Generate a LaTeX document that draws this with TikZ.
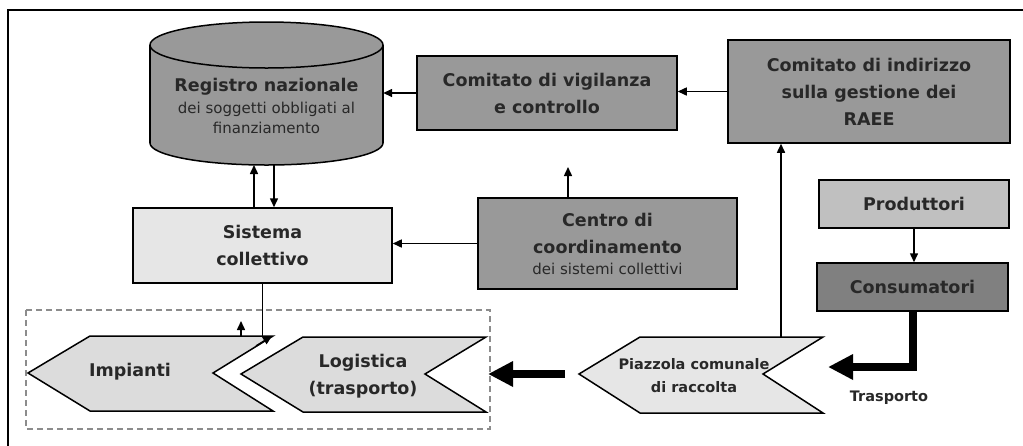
\documentclass[tikz,border=0pt]{standalone}
\usepackage{fontspec}
\setmainfont{DejaVu Sans}
\usepackage{tikz}
\usetikzlibrary{positioning, arrows.meta}
\definecolor{darkbg}{RGB}{153,153,153}
\definecolor{lightbg}{RGB}{230,230,230}
\definecolor{prodbg}{RGB}{192,192,192}
\definecolor{consbg}{RGB}{128,128,128}
\definecolor{chevbg}{RGB}{220,220,220}
\definecolor{txt}{RGB}{40,40,40}

\newcommand{\tit}{\bfseries\fontsize{17.5}{27}\selectfont}
\newcommand{\sub}{\normalfont\fontsize{15}{20}\selectfont}

\begin{document}
\begin{tikzpicture}[x=1pt, y=-1pt,
          box/.style={draw, line width=1.5pt, align=center, inner sep=0pt,
            text=txt, font=\tit},
          dbox/.style={box, fill=darkbg},
          lbox/.style={box, fill=lightbg},
          chev/.style={draw, line width=1.5pt, line join=miter},
          lbl/.style={align=center, text=txt, font=\tit},
          arr/.style={-{Triangle[length=9pt,width=8pt]}, line width=1.5pt},
          bigarr/.style={-{Triangle[length=25pt,width=24pt]}, line width=8pt},
          dashbox/.style={draw=black!45, line width=1.2pt, dash pattern=on 6pt off 4pt}]
        \useasboundingbox (0,0) rectangle (1023,445);
        \draw[line width=1.5pt] (8,10) rectangle (1040,470);

        % database
        \fill[darkbg] (266.5,143) ellipse [x radius=116.5, y radius=22];
        \fill[darkbg] (150,45) rectangle (383,143);
        \begin{scope}
          \clip (140,143) rectangle (395,180);
          \draw[line width=1.5pt] (266.5,143) ellipse [x radius=116.5, y radius=22];
        \end{scope}
        \draw[line width=1.5pt] (150,45) -- (150,143) (383,45) -- (383,143);
        \filldraw[fill=darkbg, line width=1.5pt] (266.5,45) ellipse [x radius=116.5, y radius=23];
        \node[lbl, minimum width=233pt] (reg) at (266.5,106)
          {Registro nazionale\\[-5pt]{\sub dei soggetti obbligati al}\\[-7pt]{\sub finanziamento}};
        \coordinate (regB) at (266.5,165);

        \node[dbox, minimum width=260pt, minimum height=74pt] (vig) at (547,93)
          {Comitato di vigilanza\\e controllo};
        \node[dbox, minimum width=282pt, minimum height=103pt] (ind) at (869,91.5)
          {Comitato di indirizzo\\sulla gestione dei\\RAEE};
        \node[lbox, minimum width=259pt, minimum height=75pt] (sys) at (262.5,245.5)
          {Sistema\\collettivo};
        \node[dbox, minimum width=259pt, minimum height=91pt] (cen) at (607.5,243.5)
          {Centro di\\coordinamento\\[-6pt]{\sub dei sistemi collettivi}};
        \node[box, fill=prodbg, minimum width=190pt, minimum height=48pt] (prod) at (914,204)
          {Produttori};
        \node[box, fill=consbg, minimum width=191pt, minimum height=48pt] (cons) at (912.5,287)
          {Consumatori};

        % chevrons
        \draw[dashbox] (26,310) rectangle (490,429);
        \draw[chev, fill=chevbg] (28,373) -- (90,336) -- (273,336) -- (213,373)
          -- (273,411) -- (90,411) -- cycle;
        \draw[chev, fill=chevbg] (241,374) -- (303,337) -- (486,337) -- (425,374)
          -- (486,412) -- (303,412) -- cycle;
        \draw[chev, fill=lightbg] (579,374) -- (640,337) -- (823,337) -- (763,374)
          -- (823,413) -- (640,413) -- cycle;
        \node[lbl] (imp) at (130,372) {Impianti};
        \node[lbl] (log) at (363,376) {Logistica\\(trasporto)};
        \node[lbl, font=\bfseries\fontsize{14.5}{23}\selectfont] (pz) at (694,376)
          {Piazzola comunale\\di raccolta};
        \node[lbl, font=\bfseries\fontsize{14.5}{16}\selectfont] (tr) at (889,398) {Trasporto};

        \coordinate (impR) at (262,336);
        \coordinate (impA) at (241,336);
        \coordinate (impAup) at (241,321);
        \coordinate (impS) at (256,346);
        \coordinate (impSend) at (272,336);
        \coordinate (pzTop) at (781,337);
        \coordinate (pzL) at (565,374);
        \coordinate (logR) at (488,374);
        \coordinate (pzR) at (828,367);
        \coordinate (cenUp) at (568,167);

        % connectors
        \draw[arr] (ind.west) -- (ind.west -| vig.east);
        \draw[arr] (vig.west) -- (vig.west -| reg.east);
        \draw[arr] ([xshift=-12.5pt]regB |- sys.north) -- ([xshift=-12.5pt]regB);
        \draw[arr] ([xshift=7.5pt]regB) -- ([xshift=7.5pt]regB |- sys.north);
        \draw[arr] (cen.west) -- (cen.west -| sys.east);
        \draw[arr] (cen.north -| cenUp) -- (cenUp);
        \draw[arr] (prod.south) -- (prod.south |- cons.north);
        \draw[arr] (pzTop) -- (pzTop |- ind.south);
        \draw[line width=1.5pt] (sys.south) -- (sys.south |- impR);
        \draw[arr] (impA) -- (impAup);
        \draw[arr] (impS) -- (impSend);
        \draw[bigarr, line join=miter] (cons.south) |- (pzR);
        \draw[bigarr] (pzL) -- (logR);
      \end{tikzpicture}
\end{document}
